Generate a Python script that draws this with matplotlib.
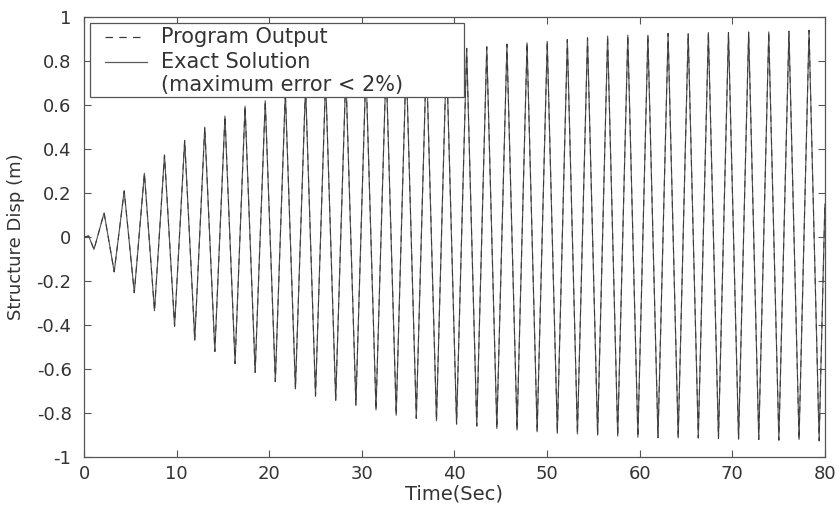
import numpy as np
import matplotlib
matplotlib.use("Agg")
import matplotlib.pyplot as plt
from matplotlib.lines import Line2D
from matplotlib.patches import Rectangle

# ---- data (peaks and troughs of the response) ----
t_start = [0.0, 0.5]
y_start = [0.0, 0.005]

t_max = [2.17, 4.34, 6.52, 8.69, 10.87, 13.04, 15.22, 17.39, 19.57, 21.74,
         23.92, 26.09, 28.27, 30.44, 32.62, 34.79, 36.97, 39.14, 41.32, 43.49,
         45.67, 47.84, 50.02, 52.19, 54.37, 56.54, 58.72, 60.89, 63.07, 65.24,
         67.42, 69.59, 71.77, 73.94, 76.12, 78.29]
y_max = [0.11, 0.21, 0.29, 0.373, 0.44, 0.50, 0.55, 0.595, 0.62, 0.66,
         0.69, 0.72, 0.745, 0.77, 0.79, 0.81, 0.825, 0.84, 0.858, 0.865,
         0.877, 0.883, 0.89, 0.898, 0.906, 0.914, 0.918, 0.918, 0.926, 0.926,
         0.93, 0.93, 0.933, 0.933, 0.936, 0.94]

t_min = [1.08, 3.26, 5.43, 7.61, 9.78, 11.96, 14.13, 16.31, 18.48, 20.66,
         22.83, 25.0, 27.18, 29.36, 31.53, 33.71, 35.88, 38.06, 40.23, 42.41,
         44.58, 46.76, 48.93, 51.11, 53.28, 55.46, 57.63, 59.81, 61.98, 64.16,
         66.33, 68.51, 70.68, 72.86, 75.03, 77.21, 79.38]
y_min = [-0.056, -0.158, -0.253, -0.335, -0.405, -0.468, -0.52, -0.575, -0.615, -0.657,
         -0.69, -0.723, -0.743, -0.764, -0.786, -0.81, -0.824, -0.835, -0.85, -0.859,
         -0.87, -0.877, -0.885, -0.892, -0.895, -0.9, -0.905, -0.91, -0.912, -0.913,
         -0.913, -0.916, -0.918, -0.92, -0.923, -0.92, -0.926]

t_end = [80.0]
y_end = [0.15]

xticks = [0, 10, 20, 30, 40, 50, 60, 70, 80]
yticks = [-1, -0.8, -0.6, -0.4, -0.2, 0, 0.2, 0.4, 0.6, 0.8, 1]
ytick_labels = ["-1", "-0.8", "-0.6", "-0.4", "-0.2", "0", "0.2", "0.4", "0.6", "0.8", "1"]
legend_labels = ["Program Output", "Exact Solution", "(maximum error < 2%)"]

# ---- assemble series ----
t = np.array(t_start + t_max + t_min + t_end)
y = np.array(y_start + y_max + y_min + y_end)
order = np.argsort(t)
t = t[order]
y = y[order]

plt.rcParams['font.family'] = ['DejaVu Sans']
fig = plt.figure(figsize=(8.4, 5.05), dpi=100)
ax = fig.add_axes([0.1, 0.095, 0.882, 0.871])

line_col = "#5a5a5a"
ax.plot(t, y, color=line_col, lw=0.85, ls='-', zorder=2)
ax.plot(t, y, color="#3a3a3a", lw=0.75, ls=(0, (6, 5)), zorder=3)

ax.set_xlim(0, 80)
ax.set_ylim(-1, 1)
ax.set_xticks(xticks)
ax.set_yticks(yticks)
ax.set_yticklabels(ytick_labels)
ax.tick_params(direction='in', length=5, width=0.8, colors="#555555",
               labelcolor="#333333", labelsize=13, top=True, right=True)
ax.tick_params(axis='y', pad=9)
ax.tick_params(axis='x', pad=6)
for s in ax.spines.values():
    s.set_color("#555555")
    s.set_linewidth(0.9)

ax.set_xlabel("Time(Sec)", fontsize=14, color="#333333", labelpad=1)
ax.set_ylabel("Structure Disp (m)", fontsize=13, color="#333333", labelpad=8)

# ---- MATLAB-style legend box (opaque, upper left) ----
x0, x1 = 0.008, 0.513
yb, yt = 0.819, 0.987
ax.add_patch(Rectangle((x0, yb), x1 - x0, yt - yb, transform=ax.transAxes,
                       facecolor="white", edgecolor="#555555", lw=0.9, zorder=10))
rows = [0.954, 0.897, 0.845]
hx0, hx1 = 0.028, 0.085
ax.add_line(Line2D([hx0, hx1 - 0.01], [rows[0]] * 2, transform=ax.transAxes,
                   color="#3a3a3a", lw=0.9, ls=(0, (6, 5)), zorder=11))
ax.add_line(Line2D([hx0, hx1], [rows[1]] * 2, transform=ax.transAxes,
                   color=line_col, lw=0.9, zorder=11))
for r, lab in zip(rows, legend_labels):
    ax.text(0.104, r, lab, transform=ax.transAxes, fontsize=15, color="#333333",
            va='center', ha='left', zorder=12)

fig.savefig("out.png", dpi=100, facecolor="white")
